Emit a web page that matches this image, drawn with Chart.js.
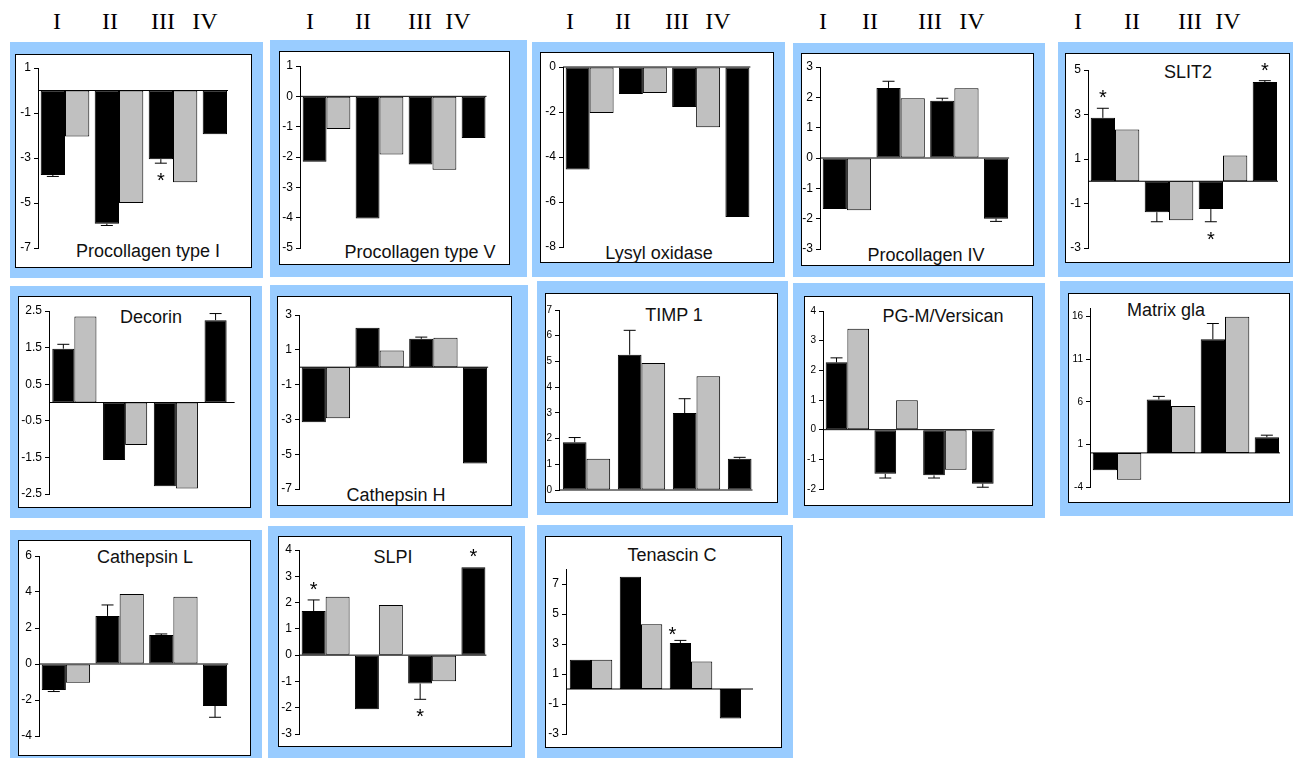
<!DOCTYPE html>
<html>
<head>
<meta charset="utf-8">
<title>ECM gene expression</title>
<style>
  body { margin: 0; background: #fff; width: 1293px; height: 758px; overflow: hidden; position: relative;
         font-family: 'Liberation Sans', Arial, sans-serif; }
  .blue { position: absolute; background: #99ccff; }
  .box { position: absolute; background: #fff; border: 1px solid #000; box-sizing: border-box; }
  .ttl { position: absolute; font-size: 18px; line-height: 1; color: #111; white-space: nowrap; transform: translateX(-50%); }
  .hdr { position: absolute; font-family: 'Liberation Serif', 'Times New Roman', serif; font-size: 24px;
         line-height: 1; transform: translate(-50%, -50%); }
  canvas { position: absolute; }
</style>
<script src="https://cdn.jsdelivr.net/npm/chart.js@4.4.0/dist/chart.umd.min.js"></script>
</head>
<body>
<script>
const groups = ['I', 'II', 'III', 'IV'];
const chartNames = ['Procollagen type I', 'Procollagen type V', 'Lysyl oxidase', 'Procollagen IV', 'SLIT2',
                    'Decorin', 'Cathepsin H', 'TIMP 1', 'PG-M/Versican', 'Matrix gla',
                    'Cathepsin L', 'SLPI', 'Tenascin C'];

// black = first bar of each group, grey = second, err = error bar on black bar
const pc1Black = [-3.75, -5.92, -3.05, -1.94];
const pc1Grey  = [-2.04, -5.0, -4.08, null];
const pc1Err   = [0.07, 0.08, 0.18, 0];
const pc1Star  = ['', '', 'below', ''];
const pc1Ticks = [1, -1, -3, -5, -7];

const pc5Black = [-2.16, -4.03, -2.25, -1.37];
const pc5Grey  = [-1.08, -1.92, -2.42, null];
const pc5Err   = [0, 0, 0, 0];
const pc5Star  = ['', '', '', ''];
const pc5Ticks = [1, 0, -1, -2, -3, -4, -5];

const loxBlack = [-4.56, -1.2, -1.78, -6.67];
const loxGrey  = [-2.04, -1.16, -2.68, null];
const loxErr   = [0, 0, 0, 0];
const loxStar  = ['', '', '', ''];
const loxTicks = [0, -2, -4, -6, -8];

const pc4Black = [-1.68, 2.31, 1.89, -2.0];
const pc4Grey  = [-1.72, 1.97, 2.3, null];
const pc4Err   = [0, 0.22, 0.08, 0.09];
const pc4Star  = ['', '', '', ''];
const pc4Ticks = [3, 2, 1, 0, -1, -2, -3];

const slitBlack = [2.85, -1.39, -1.25, 4.46];
const slitGrey  = [2.33, -1.75, 1.16, null];
const slitErr   = [0.43, 0.43, 0.57, 0.06];
const slitStar  = ['above', '', 'below', 'above'];
const slitTicks = [5, 3, 1, -1, -3];

const decBlack = [1.47, -1.57, -2.29, 2.25];
const decGrey  = [2.35, -1.16, -2.35, null];
const decErr   = [0.12, 0, 0, 0.18];
const decStar  = ['', '', '', ''];
const decTicks = [2.5, 1.5, 0.5, -0.5, -1.5, -2.5];

const cthBlack = [-3.17, 2.27, 1.63, -5.54];
const cthGrey  = [-2.94, 0.96, 1.69, null];
const cthErr   = [0, 0, 0.1, 0];
const cthStar  = ['', '', '', ''];
const cthTicks = [3, 1, -1, -3, -5, -7];

const timpBlack = [1.86, 5.26, 2.99, 1.22];
const timpGrey  = [1.22, 4.94, 4.42, null];
const timpErr   = [0.18, 0.95, 0.56, 0.05];
const timpStar  = ['', '', '', ''];
const timpTicks = [7, 6, 5, 4, 3, 2, 1, 0];

const pgmBlack = [2.27, -1.49, -1.54, -1.82];
const pgmGrey  = [3.4, 0.99, -1.35, null];
const pgmErr   = [0.15, 0.14, 0.09, 0.12];
const pgmStar  = ['', '', '', ''];
const pgmTicks = [4, 3, 2, 1, 0, -1, -2];

const mglaBlack = [-2.04, 6.27, 13.33, 1.84];
const mglaGrey  = [-3.14, 5.49, 15.96, null];
const mglaErr   = [0, 0.36, 1.85, 0.24];
const mglaStar  = ['', '', '', ''];
const mglaTicks = [16, 11, 6, 1, -4];

const ctlBlack = [-1.44, 2.67, 1.61, -2.33];
const ctlGrey  = [-1.04, 3.89, 3.74, null];
const ctlErr   = [0.09, 0.61, 0.06, 0.63];
const ctlStar  = ['', '', '', ''];
const ctlTicks = [6, 4, 2, 0, -2, -4];

const slpiBlack = [1.68, -2.06, -1.08, 3.34];
const slpiGrey  = [2.22, 1.91, -0.99, null];
const slpiErr   = [0.42, 0, 0.6, 0];
const slpiStar  = ['above', '', 'below', 'above'];
const slpiTicks = [4, 3, 2, 1, 0, -1, -2, -3];

const tenBlack = [1.95, 7.49, 3.06, -1.97];
const tenGrey  = [1.95, 4.32, 1.84, null];
const tenErr   = [0, 0, 0.18, 0];
const tenStar  = ['', '', 'above', ''];
const tenTicks = [7, 5, 3, 1, -1, -3];

// axis top above highest labelled tick
const mglaMax = 17;
const tenMax = 8;

const series = [
  [pc1Black, pc1Grey, pc1Err, pc1Star, pc1Ticks],
  [pc5Black, pc5Grey, pc5Err, pc5Star, pc5Ticks],
  [loxBlack, loxGrey, loxErr, loxStar, loxTicks],
  [pc4Black, pc4Grey, pc4Err, pc4Star, pc4Ticks],
  [slitBlack, slitGrey, slitErr, slitStar, slitTicks],
  [decBlack, decGrey, decErr, decStar, decTicks],
  [cthBlack, cthGrey, cthErr, cthStar, cthTicks],
  [timpBlack, timpGrey, timpErr, timpStar, timpTicks],
  [pgmBlack, pgmGrey, pgmErr, pgmStar, pgmTicks],
  [mglaBlack, mglaGrey, mglaErr, mglaStar, mglaTicks, mglaMax],
  [ctlBlack, ctlGrey, ctlErr, ctlStar, ctlTicks],
  [slpiBlack, slpiGrey, slpiErr, slpiStar, slpiTicks],
  [tenBlack, tenGrey, tenErr, tenStar, tenTicks, tenMax]
];

// page geometry: blue frame, white box, y axis x, pixel of max / min, slot pitch, title centre / baseline
const layout = [
  { blue: [10, 42, 253, 236],  box: [15, 54, 237, 214],   ax: 38,   top: 68,  bot: 248, pitch: 54,   cat: 0.9,  tx: 148,  ty: 257 },
  { blue: [270, 40, 257, 237], box: [279, 51, 231, 214],  ax: 300,  top: 66,  bot: 248, pitch: 53,   cat: 0.9,  tx: 420,  ty: 258 },
  { blue: [532, 42, 253, 235], box: [540, 52, 234, 211],  ax: 563,  top: 67,  bot: 247, pitch: 53.3, cat: 0.9,  tx: 659,  ty: 259 },
  { blue: [793, 43, 252, 234], box: [801, 53, 233, 213],  ax: 820,  top: 67,  bot: 249, pitch: 53.7, cat: 0.9,  tx: 926,  ty: 261 },
  { blue: [1058, 42, 235, 235],box: [1065, 53, 225, 210], ax: 1088, top: 70,  bot: 248, pitch: 54,   cat: 0.9,  tx: 1188, ty: 78 },
  { blue: [10, 286, 252, 232], box: [18, 296, 233, 212],  ax: 49,   top: 311, bot: 494, pitch: 50.7, cat: 0.87, tx: 151,  ty: 323, ext: 8 },
  { blue: [270, 285, 258, 233],box: [277, 296, 235, 210], ax: 299,  top: 315, bot: 489, pitch: 53.7, cat: 0.9,  tx: 396,  ty: 501 },
  { blue: [537, 281, 251, 234],box: [545, 293, 233, 210], ax: 559,  top: 310, bot: 490, pitch: 55,   cat: 0.86, tx: 674,  ty: 321, fs: 10 },
  { blue: [793, 283, 252, 235],box: [804, 296, 229, 210], ax: 823,  top: 311, bot: 489, pitch: 48.7, cat: 0.89, tx: 943,  ty: 322, fs: 10 },
  { blue: [1060, 281, 233, 235],box: [1068, 293, 222, 210],ax: 1090, top: 308, bot: 487, pitch: 54,   cat: 0.9,  tx: 1166, ty: 316, fs: 10 },
  { blue: [10, 530, 252, 228], box: [18, 540, 233, 216],  ax: 39,   top: 556, bot: 736, pitch: 53.7, cat: 0.9,  tx: 145,  ty: 563 },
  { blue: [268, 526, 257, 232],box: [278, 536, 234, 211], ax: 299,  top: 550, bot: 734, pitch: 53.3, cat: 0.9,  tx: 393,  ty: 563 },
  { blue: [537, 525, 256, 233],box: [545, 536, 237, 212], ax: 566,  top: 569, bot: 734, pitch: 50,   cat: 0.85, tx: 672,  ty: 561, ext: 12, sdx: -8, sgap: 4 }
];

const headerX = [
  [57, 110, 163, 205], [310, 363, 420, 458], [570, 623, 677, 718], [823, 870, 930, 972], [1078, 1132, 1190, 1228]
];

const YW = 34, PAD = 12;

function addDiv(cls, r) {
  const d = document.createElement('div');
  d.className = cls;
  if (r) {
    d.style.left = r[0] + 'px'; d.style.top = r[1] + 'px';
    d.style.width = r[2] + 'px'; d.style.height = r[3] + 'px';
  }
  document.body.appendChild(d);
  return d;
}

headerX.forEach(col => col.forEach((x, i) => {
  const h = addDiv('hdr');
  h.textContent = groups[i];
  h.style.left = x + 'px';
  h.style.top = '21px';
}));

function extras(vals, err, stars, ext, sdx, sgap) {
  return {
    id: 'extras',
    afterDatasetsDraw(chart) {
      const ctx = chart.ctx, ys = chart.scales.y;
      const bars = chart.getDatasetMeta(0).data;
      const y0 = ys.getPixelForValue(0);
      ctx.save();
      ctx.strokeStyle = '#000';
      ctx.fillStyle = '#000';
      ctx.lineWidth = 1;
      const last = bars[bars.length - 1];
      ctx.beginPath();
      ctx.moveTo(chart.chartArea.left, y0);
      ctx.lineTo(last.x + last.width / 2 + ext, y0);
      ctx.stroke();
      ctx.font = '20px "Liberation Sans", Arial, sans-serif';
      ctx.textAlign = 'center';
      ctx.textBaseline = 'middle';
      vals.forEach((v, i) => {
        const b = bars[i];
        const dir = v < 0 ? -1 : 1;
        const yEnd = ys.getPixelForValue(v + dir * err[i]);
        if (err[i] > 0) {
          ctx.beginPath();
          ctx.moveTo(b.x, b.y); ctx.lineTo(b.x, yEnd);
          ctx.moveTo(b.x - 6, yEnd); ctx.lineTo(b.x + 6, yEnd);
          ctx.stroke();
        }
        if (stars[i]) {
          const c = stars[i] === 'above' ? yEnd - sgap - 5 : yEnd + sgap + 5;
          ctx.fillText('*', b.x + sdx, c + 4.5);
        }
      });
      ctx.restore();
    }
  };
}

layout.forEach((L, k) => {
  const [black, grey, err, stars, ticks, maxOverride] = series[k];
  addDiv('blue', L.blue);
  addDiv('box', L.box);
  const t = addDiv('ttl');
  t.textContent = chartNames[k];
  t.style.left = L.tx + 'px';
  t.style.top = (L.ty - 15) + 'px';

  const cv = document.createElement('canvas');
  const w = Math.round(YW + 4 * L.pitch + 4);
  const h = (L.bot - L.top) + 2 * PAD;
  cv.width = w; cv.height = h;
  cv.style.width = w + 'px'; cv.style.height = h + 'px';
  cv.style.left = (L.ax - YW) + 'px';
  cv.style.top = (L.top - PAD) + 'px';
  document.body.appendChild(cv);

  new Chart(cv, {
    type: 'bar',
    data: {
      labels: groups,
      datasets: [
        { data: black, backgroundColor: '#000', borderColor: '#000', borderWidth: 1, borderSkipped: false },
        { data: grey, backgroundColor: '#c0c0c0', borderColor: '#000', borderWidth: 1, borderSkipped: false }
      ]
    },
    options: {
      responsive: false,
      animation: false,
      devicePixelRatio: 1,
      categoryPercentage: L.cat,
      barPercentage: 1,
      layout: { padding: { top: PAD, bottom: PAD, left: 0, right: 4 } },
      plugins: { legend: { display: false }, tooltip: { enabled: false }, title: { display: false } },
      scales: {
        x: { display: false },
        y: {
          min: ticks[ticks.length - 1],
          max: maxOverride !== undefined ? maxOverride : ticks[0],
          afterFit: s => { s.width = YW; },
          afterBuildTicks: s => { s.ticks = ticks.map(v => ({ value: v })); },
          ticks: {
            autoSkip: false, padding: 3, color: '#000',
            font: { family: "'Liberation Sans', Arial, sans-serif", size: L.fs || 12 },
            callback: v => String(v)
          },
          grid: { drawOnChartArea: false, drawTicks: true, tickLength: 4, color: '#000' },
          border: { display: true, color: '#000', width: 1 }
        }
      }
    },
    plugins: [extras(black, err, stars, L.ext || 1, L.sdx || 0, L.sgap === undefined ? 9 : L.sgap)]
  });
});
</script>
</body>
</html>
